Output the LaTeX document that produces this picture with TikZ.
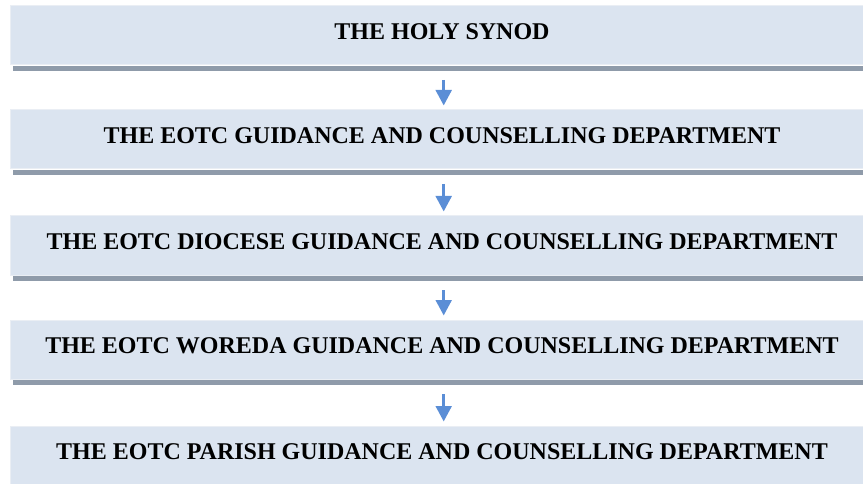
\documentclass[tikz,border=0pt]{standalone}
\usepackage{fontspec}
\setmainfont{Liberation Serif}
\usetikzlibrary{arrows.meta}
\definecolor{boxfill}{HTML}{DBE4F0}
\definecolor{boxedge}{HTML}{EAEEF4}
\definecolor{barcol}{HTML}{8F9BAA}
\definecolor{arrcol}{HTML}{5B8ED6}
\begin{document}
\begin{tikzpicture}[x=1pt,y=-1pt,
  levelbox/.style={rectangle, fill=boxfill, draw=boxedge, line width=1pt,
    minimum width=864pt, minimum height=59pt, outer sep=0pt, inner sep=0pt,
    anchor=north west},
  leveltext/.style={font=\fontsize{24}{28}\selectfont\bfseries, inner sep=0pt},
  shadowbar/.style={fill=barcol},
  flowarrow/.style={draw=arrcol, line width=3pt,
    -{Triangle[width=15.7pt,length=15.5pt]}}]
\useasboundingbox (0,0) rectangle (863,484);
\clip (0,0) rectangle (863,484);
% the five levels of the hierarchy, top to bottom
\foreach \name/\top/\label in {
  b1/6/THE HOLY SYNOD,
  b2/110/THE EOTC GUIDANCE AND COUNSELLING DEPARTMENT,
  b3/216/THE EOTC DIOCESE GUIDANCE AND COUNSELLING DEPARTMENT,
  b4/320/THE EOTC WOREDA GUIDANCE AND COUNSELLING DEPARTMENT,
  b5/426/THE EOTC PARISH GUIDANCE AND COUNSELLING DEPARTMENT}{
  \node[levelbox] (\name) at (10,\top) {};
  \fill[shadowbar] ([xshift=3pt,yshift=-0.7pt]\name.south west)
    rectangle ([yshift=-6pt]\name.south east);
  \node[leveltext] (\name t) at ([yshift=4pt]\name.center) {\label};
}
% downward connectors between consecutive levels
\foreach \a/\b in {b1/b2, b2/b3, b3/b4, b4/b5}{
  \draw[flowarrow] ([xshift=1.7pt,yshift=-15pt]\a.south)
    -- ([xshift=1.7pt,yshift=4.5pt]\b.north);
}
\end{tikzpicture}
\end{document}
